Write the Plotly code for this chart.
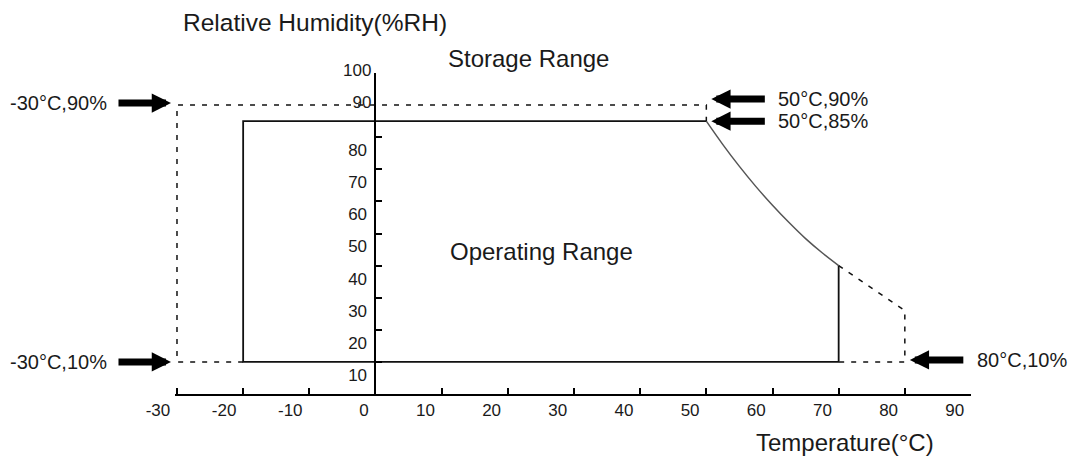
import plotly.graph_objects as go

# ---------------- data ----------------
x_tick_vals = [-30, -20, -10, 0, 10, 20, 30, 40, 50, 60, 70, 80, 90]
x_tick_text = ["-30", "-20", "-10", "0", "10", "20", "30", "40", "50", "60", "70", "80", "90"]
y_tick_vals = [10, 20, 30, 40, 50, 60, 70, 80, 100]
y_tick_text = ["10", "20", "30", "40", "50", "60", "70", "80", ""]
y_top_vals = [90, 100]
y_top_text = ["90", "100"]

# operating range (solid rectangle part)
op_x = [70, 70, -20, -20, 50]
op_y = [40, 10, 10, 85, 85]
# operating / storage derating curve
curve_x = [50, 52.5, 55, 57.5, 60, 62.5, 65, 67.5, 70]
curve_y = [85, 77.7, 70.9, 64.6, 58.8, 53.4, 48.4, 44, 40]
# storage range (dashed parts)
st_x = [-20, -30, -30, 50, 50, None, 70, 80, 80, 70]
st_y = [10, 10, 90, 90, 85, None, 40, 26, 10, 10]

# corner labels: text, x, y, side of the arrow
corner_text = ["-30°C,90%", "-30°C,10%", "50°C,90%", "50°C,85%", "80°C,10%"]
corner_x = [-30, -30, 50, 50, 80]
corner_y = [90, 10, 90, 85, 10]
corner_side = ["left", "left", "right", "right", "right"]

# ---------------- layout geometry ----------------
W, H = 1073, 456
ML, MR, MT, MB = 175, 102, 73, 62
XR = [-30.3, 90]
YR = [0, 100]
PW = W - ML - MR
PH = H - MT - MB
# small vertical pixel nudges of the arrow callouts (drawing offsets only)
callout_nudge = [2, 0, 6, 0, 2]


def px(xp):
    return (xp - ML) / PW


def py(yp):
    return (H - MB - yp) / PH


FONT = "Liberation Sans, Arial, sans-serif"
TXT = "#1a1a1a"

fig = go.Figure()

fig.add_trace(go.Scatter(x=op_x, y=op_y, mode="lines",
                         line=dict(color="#111111", width=1.8), hoverinfo="skip"))
fig.add_trace(go.Scatter(x=curve_x, y=curve_y, mode="lines", line_shape="spline",
                         line=dict(color="#555555", width=1.5), hoverinfo="skip"))
fig.add_trace(go.Scatter(x=st_x, y=st_y, mode="lines", yaxis="y2",
                         line=dict(color="#111111", width=1.5, dash="5px,7px"),
                         hoverinfo="skip"))

annotations = []
# arrows and corner labels
for t, xv, yv, side, nud in zip(corner_text, corner_x, corner_y, corner_side, callout_nudge):
    if side == "left":
        annotations.append(dict(x=xv, y=yv, xref="x", yref="y", text="", showarrow=True,
                                ax=-60, ay=0, arrowhead=2, arrowsize=0.55, arrowwidth=7,
                                arrowcolor="black", standoff=6, yshift=nud))
        annotations.append(dict(x=xv, y=yv, xref="x", yref="y", text=t, showarrow=False,
                                xanchor="right", yanchor="middle", xshift=-68, yshift=nud,
                                font=dict(family=FONT, size=20, color=TXT)))
    else:
        annotations.append(dict(x=xv, y=yv, xref="x", yref="y", text="", showarrow=True,
                                ax=60, ay=0, arrowhead=2, arrowsize=0.55, arrowwidth=7,
                                arrowcolor="black", standoff=5, yshift=nud))
        annotations.append(dict(x=xv, y=yv, xref="x", yref="y", text=t, showarrow=False,
                                xanchor="left", yanchor="middle", xshift=70, yshift=nud,
                                font=dict(family=FONT, size=20, color=TXT)))

annotations += [
    dict(x=px(181), y=py(23), xref="paper", yref="paper", text="Relative Humidity(%RH)",
         showarrow=False, xanchor="left", yanchor="middle",
         font=dict(family=FONT, size=24.5, color=TXT)),
    dict(x=px(528), y=py(58), xref="paper", yref="paper", text="Storage Range",
         showarrow=False, xanchor="center", yanchor="middle",
         font=dict(family=FONT, size=24, color=TXT)),
    dict(x=px(541), y=py(251), xref="paper", yref="paper", text="Operating Range",
         showarrow=False, xanchor="center", yanchor="middle",
         font=dict(family=FONT, size=24, color=TXT)),
    dict(x=px(845), y=py(443), xref="paper", yref="paper", text="Temperature(°C)",
         showarrow=False, xanchor="center", yanchor="middle",
         font=dict(family=FONT, size=24, color=TXT)),
]

y0pos = (0 - XR[0]) / (XR[1] - XR[0])

fig.update_layout(
    width=W, height=H,
    margin=dict(l=ML, r=MR, t=MT, b=MB, autoexpand=False),
    plot_bgcolor="white", paper_bgcolor="white", showlegend=False,
    xaxis=dict(range=XR, tickvals=x_tick_vals, ticktext=x_tick_text,
               ticks="inside", ticklen=6, tickwidth=1.5, tickcolor="black",
               showline=True, linecolor="black", linewidth=2,
               showgrid=False, zeroline=False, fixedrange=True,
               ticklabelposition="outside left", ticklabelshift=-5,
               tickfont=dict(family=FONT, size=17, color=TXT)),
    yaxis=dict(range=YR, anchor="free", position=y0pos, side="left",
               tickvals=y_tick_vals, ticktext=y_tick_text,
               ticks="inside", ticklen=6, tickwidth=1.5, tickcolor="black",
               showline=True, linecolor="black", linewidth=2,
               showgrid=False, zeroline=False, fixedrange=True,
               ticklabelshift=13, ticklabelstandoff=4,
               tickfont=dict(family=FONT, size=17, color=TXT)),
    yaxis2=dict(range=YR, overlaying="y", anchor="free", position=y0pos, side="left",
                tickvals=y_top_vals, ticktext=y_top_text, ticks="",
                showline=False, showgrid=False, zeroline=False, fixedrange=True,
                ticklabelshift=-3, ticklabelstandoff=4,
                tickfont=dict(family=FONT, size=17, color=TXT)),
    annotations=annotations,
)

fig.write_html("out.html", config={"displayModeBar": False},
               post_script="document.body.style.margin='0';document.body.style.overflow='hidden';")
